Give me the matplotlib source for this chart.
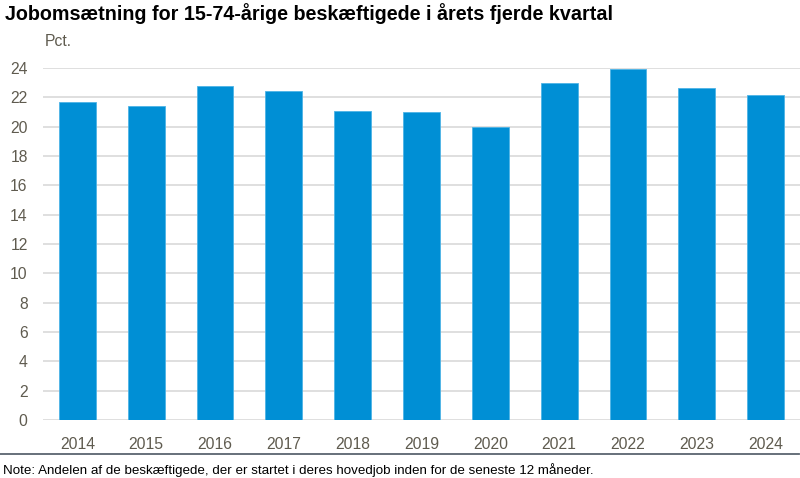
import matplotlib
matplotlib.use("Agg")
import matplotlib.pyplot as plt
from matplotlib import font_manager

names = sorted({f.name for f in font_manager.fontManager.ttflist})

years = ["2014", "2015", "2016", "2017", "2018", "2019", "2020", "2021", "2022", "2023", "2024"]
values = [21.65, 21.4, 22.8, 22.45, 21.1, 21.0, 19.95, 22.95, 23.9, 22.65, 22.15]

narrow = "Liberation Sans Narrow" if "Liberation Sans Narrow" in names else "Liberation Sans"
label_size = 12.3 if narrow == "Liberation Sans Narrow" else 11.3
note_size = 10.5 if narrow == "Liberation Sans Narrow" else 9.6

fig = plt.figure(figsize=(8, 4.78), dpi=100)
ax = fig.add_axes([43 / 800, 1 - 420 / 478, 757 / 800, 352 / 478])

# søjler
ax.bar(range(len(years)), values, width=0.535, color="#008FD5", edgecolor="#4DB3E6", linewidth=0.6, zorder=3)
ax.set_xlim(-0.5, len(years) - 0.5)
ax.set_ylim(0, 24)
ax.set_yticks(range(0, 25, 2))
ax.set_xticks(range(len(years)))
ax.set_xticklabels(years)
ax.grid(axis="y", color="#D9D9D9", linewidth=1.2, zorder=0)
ax.set_axisbelow(True)
for s in ax.spines.values():
    s.set_visible(False)
ax.tick_params(length=0, labelcolor="#5F5B4F", labelsize=label_size, pad=12)
ax.tick_params(axis="y", pad=11)
for lab in ax.get_xticklabels() + ax.get_yticklabels():
    lab.set_fontfamily(narrow)

fig.text(45 / 800, 1 - 42 / 478, "Pct.", fontfamily=narrow, fontsize=label_size, color="#5F5B4F", va="center")
fig.text(5 / 800, 1 - 14 / 478, "Jobomsætning for 15-74-årige beskæftigede i årets fjerde kvartal",
         fontfamily="Liberation Sans", fontweight="bold", fontsize=14.2, va="center")
fig.add_artist(plt.Line2D([0, 799 / 800], [1 - 453.5 / 478] * 2, color="#5A6470", linewidth=1.3))
fig.text(3 / 800, 1 - 470 / 478,
         "Note: Andelen af de beskæftigede, der er startet i deres hovedjob inden for de seneste 12 måneder.",
         fontfamily=narrow, fontsize=note_size, va="center")

fig.savefig("out.png", dpi=100)
